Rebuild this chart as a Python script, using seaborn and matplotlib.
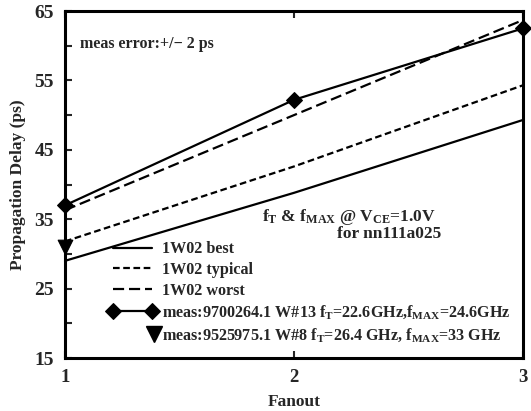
import matplotlib
matplotlib.use("Agg")
import matplotlib.pyplot as plt
from matplotlib.legend_handler import HandlerBase
from matplotlib.lines import Line2D
from matplotlib.ticker import FixedLocator
import seaborn as sns
import pandas as pd

# ---- data ----
fanout = [1, 2, 3]
best = [29.0, 38.8, 49.3]
typical = [31.8, 42.6, 54.3]
worst = [36.3, 50.0, 63.7]
meas_9700264 = [37.0, 52.2, 62.5]
meas_9525975_x = [1]
meas_9525975 = [31.0]
y_major = [15, 25, 35, 45, 55, 65]
y_minor = [20, 30, 40, 50, 60]

labels = [
    "1W02 best",
    "1W02 typical",
    "1W02 worst",
    r"meas:9700264.1 W#13 f$_{\rm T}$=22.6GHz,f$_{\rm MAX}$=24.6GHz",
    r"meas:9525975.1 W#8 f$_{\rm T}$=26.4 GHz, f$_{\rm MAX}$=33 GHz",
]

sns.set_theme(style="white")
plt.rcParams["font.family"] = ["Liberation Serif", "DejaVu Serif"]
plt.rcParams["font.weight"] = "bold"
plt.rcParams["mathtext.fontset"] = "custom"
plt.rcParams["mathtext.rm"] = "Liberation Serif:bold"
plt.rcParams["mathtext.it"] = "Liberation Serif:bold:italic"
plt.rcParams["mathtext.bf"] = "Liberation Serif:bold"

df = pd.DataFrame({
    "Fanout": fanout * 4,
    "Delay": best + typical + worst + meas_9700264,
    "series": [labels[0]] * 3 + [labels[1]] * 3 + [labels[2]] * 3 + [labels[3]] * 3,
})

fig = plt.figure(figsize=(5.31, 4.11), dpi=100)
ax = fig.add_axes([65 / 531, 1 - 358 / 411, 458 / 531, 347 / 411])

dash_map = {labels[0]: None, labels[1]: (3, 1.6), labels[2]: (5, 2.2)}
handles = []
for lab in labels[:3]:
    sub = df[df.series == lab]
    sns.lineplot(data=sub, x="Fanout", y="Delay", ax=ax, color="black", lw=1.6,
                 legend=False)
    ln = ax.lines[-1]
    if dash_map[lab] is not None:
        ln.set_dashes(dash_map[lab])
    ln.set_label(lab)
    handles.append(ln)

sub = df[df.series == labels[3]]
sns.lineplot(data=sub, x="Fanout", y="Delay", ax=ax, color="black", lw=1.6,
             marker="D", markersize=8, markeredgecolor="black", legend=False)
ln = ax.lines[-1]
ln.set_label(labels[3])
handles.append(ln)

tri = pd.DataFrame({"Fanout": meas_9525975_x, "Delay": meas_9525975})
sns.scatterplot(data=tri, x="Fanout", y="Delay", ax=ax, marker="v", s=110,
                color="black", edgecolor="black", clip_on=False, zorder=5, legend=False)
tri_handle = Line2D([], [], ls="none", marker="v", markersize=11, color="black",
                    label=labels[4])
handles.append(tri_handle)
for l in ax.lines:
    l.set_clip_on(False)


class EndMarkerHandler(HandlerBase):
    def create_artists(self, legend, orig_handle, xdescent, ydescent, width,
                       height, fontsize, trans):
        m = Line2D([width - xdescent - 2], [height / 2 - ydescent], ls="none",
                   marker="v", markersize=11, color="black", transform=trans)
        return [m]


ax.set_xlim(1, 3)
ax.set_ylim(15, 65)
ax.set_xticks([1, 2, 3])
ax.yaxis.set_major_locator(FixedLocator(y_major))
ax.yaxis.set_minor_locator(FixedLocator(y_minor))
ax.tick_params(axis="y", which="both", direction="in", left=True, right=False,
               length=5, width=1.5, labelsize=14, pad=8)
ax.tick_params(axis="x", which="major", direction="in", bottom=True, top=True,
               length=5, width=1.5, labelsize=13.5, pad=8)
for lbl in ax.get_xticklabels() + ax.get_yticklabels():
    lbl.set_fontweight("bold")
for s in ax.spines.values():
    s.set_linewidth(2.2)
    s.set_color("black")

ax.set_xlabel("Fanout", fontsize=12.5, fontweight="bold", labelpad=6)
ax.set_ylabel("Propagation Delay (ps)", fontsize=12.5, fontweight="bold", labelpad=6)

ax.text(0.033, 0.905, "meas error:+/\u2212 2 ps", transform=ax.transAxes,
        fontsize=11.5, fontweight="bold", va="center", ha="left")
ax.text(0.43, 0.405, r"f$_{\rm T}$ & f$_{\rm MAX}$ @ V$_{\rm CE}$=1.0V",
        transform=ax.transAxes, fontsize=12.5, fontweight="bold", va="center", ha="left")
ax.text(0.594, 0.356, "for nn111a025", transform=ax.transAxes,
        fontsize=12.5, fontweight="bold", va="center", ha="left")

leg = ax.legend(handles=handles, loc="lower left",
                bbox_to_anchor=(0.095, 0.04), frameon=False, fontsize=11.6,
                numpoints=2, handlelength=3.0, handletextpad=0.35,
                labelspacing=0.3, borderpad=0, borderaxespad=0,
                handler_map={tri_handle: EndMarkerHandler()})
for t in leg.get_texts():
    t.set_fontweight("bold")

fig.savefig("out.png", dpi=100)
